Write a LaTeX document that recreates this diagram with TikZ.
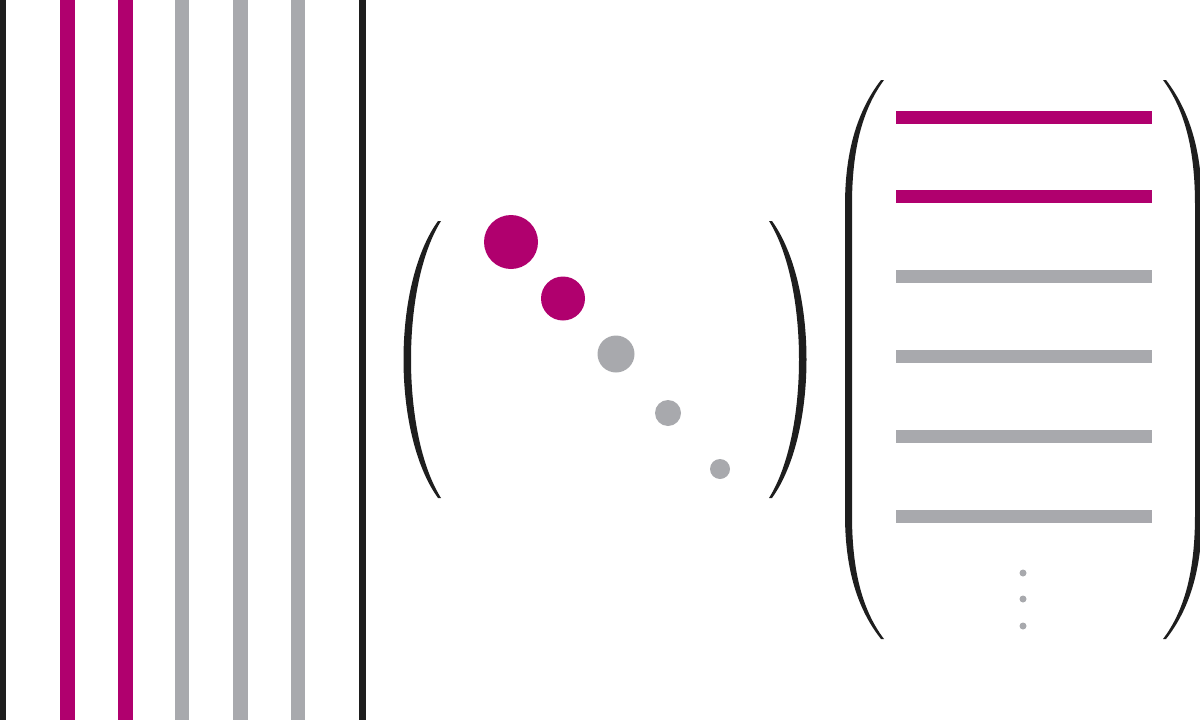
\documentclass[tikz,border=0pt]{standalone}
\usepackage{tikz}
\usetikzlibrary{positioning}

\definecolor{rowmag}{RGB}{176,0,110}
\definecolor{rowgray}{RGB}{168,169,173}
\definecolor{parblack}{RGB}{30,30,30}

\begin{document}
\begin{tikzpicture}[x=1pt, y=-1pt,
        colbar/.style={line width=14.5pt},
        rowbar/.style={line width=13pt},
        dot/.style={circle, inner sep=0pt, draw=none},
        paren/.style={fill=parblack, draw=none}]
    \useasboundingbox (0,0) rectangle (1200,720);

    % Left matrix: frame and columns
    \draw[line width=6.5pt, parblack] (3,0) -- (3,720);
    \draw[line width=7pt, parblack] (362,0) -- (362,720);
    \foreach \x/\c in {67.5/rowmag, 125.5/rowmag, 182/rowgray, 240.3/rowgray, 298/rowgray}
        \draw[colbar, \c] (\x,0) -- (\x,720);

    % Diagonal matrix
    \fill[paren] (438,221) .. controls (392,285) and (392,434) .. (438,498)
        -- (441,498) .. controls (401,434) and (401,285) .. (441,221) -- cycle;
    \fill[paren] (772,221) .. controls (818,285) and (818,434) .. (772,498)
        -- (769,498) .. controls (809,434) and (809,285) .. (769,221) -- cycle;

    \node[dot, fill=rowmag, minimum size=54pt] (d1) at (511,242) {};
    \node[dot, fill=rowmag, minimum size=44pt] (d2) at (563,298.5) {};
    \node[dot, fill=rowgray, minimum size=37pt] (d3) at (616,354) {};
    \node[dot, fill=rowgray, minimum size=26pt] (d4) at (668,413) {};
    \node[dot, fill=rowgray, minimum size=20pt] (d5) at (720,469) {};

    % Right matrix: rows
    \fill[paren] (881,80) .. controls (858,110) and (845,150) .. (845,205)
        -- (845,515) .. controls (845,570) and (858,610) .. (881,639)
        -- (884,639) .. controls (862,610) and (852,570) .. (852,515)
        -- (852,205) .. controls (852,150) and (862,110) .. (884,80) -- cycle;
    \fill[paren] (1166,80) .. controls (1189,110) and (1202,150) .. (1202,205)
        -- (1202,515) .. controls (1202,570) and (1189,610) .. (1166,639)
        -- (1163,639) .. controls (1185,610) and (1195,570) .. (1195,515)
        -- (1195,205) .. controls (1195,150) and (1185,110) .. (1163,80) -- cycle;

    \foreach \y/\c in {117/rowmag, 196/rowmag, 276/rowgray, 356/rowgray, 436/rowgray, 516/rowgray}
        \draw[rowbar, \c] (896,\y) -- (1152,\y);

    \foreach \y [count=\i] in {573,599,626}
        \node[dot, fill=rowgray, minimum size=7pt] (vd\i) at (1023,\y) {};

\end{tikzpicture}
\end{document}
